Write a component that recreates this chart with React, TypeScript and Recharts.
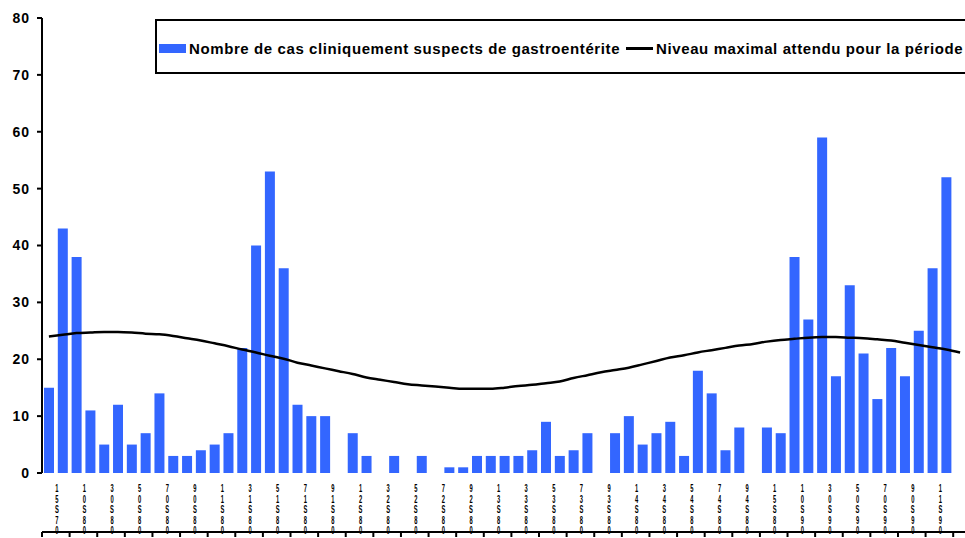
import { Bar, ComposedChart, Legend, Line, XAxis, YAxis } from "recharts";

// weekly counts, last week has no report yet
const cases: (number | null)[] = [
  15, 43, 38, 11, 5, 12, 5, 7, 14, 3, 3, 4, 5, 7, 22, 40, 53, 36, 12, 10, 10, 0, 7, 3, 0, 3, 0,
  3, 0, 1, 1, 3, 3, 3, 3, 4, 9, 3, 4, 7, 0, 7, 10, 5, 7, 9, 3, 18, 14, 4, 8, 0, 8, 7, 38, 27, 59,
  17, 33, 21, 13, 22, 17, 25, 36, 52, null,
];

const threshold: number[] = [
  24.0, 24.3, 24.6, 24.7, 24.8, 24.8, 24.7, 24.5, 24.4, 24.1, 23.7, 23.3, 22.8, 22.3, 21.7, 21.2,
  20.6, 20.1, 19.4, 18.9, 18.4, 17.9, 17.4, 16.8, 16.4, 16.0, 15.6, 15.4, 15.2, 15.0, 14.8, 14.8,
  14.8, 15.0, 15.3, 15.5, 15.8, 16.1, 16.7, 17.2, 17.7, 18.1, 18.5, 19.1, 19.7, 20.3, 20.7, 21.2,
  21.6, 22.0, 22.4, 22.7, 23.1, 23.4, 23.6, 23.8, 23.9, 23.9, 23.8, 23.7, 23.5, 23.3, 22.9, 22.5,
  22.1, 21.7, 21.2,
];

// one label every two weeks (year + week), drawn stacked from the bottom up
const tickLabels: string[] = [
  "07S51", "08S01", "08S03", "08S05", "08S07", "08S09", "08S11", "08S13",
  "08S15", "08S17", "08S19", "08S21", "08S23", "08S25", "08S27", "08S29",
  "08S31", "08S33", "08S35", "08S37", "08S39", "08S41", "08S43", "08S45",
  "08S47", "08S49", "08S51", "09S01", "09S03", "09S05", "09S07", "09S09",
  "09S11",
];

const yTicks = [0, 10, 20, 30, 40, 50, 60, 70, 80];

const BAR_NAME = "Nombre de cas cliniquement suspects de gastroentérite";
const LINE_NAME = "Niveau maximal attendu pour la période";
const FONT = "Arial, 'Liberation Sans', sans-serif";
const BLUE = "#3366ff";

const data = threshold.map((t, i) => ({ pos: i + 0.5, cases: cases[i], seuil: t }));
const weekTicks = threshold.map((_, i) => i).filter((i) => i % 2 === 0);
const labelTicks = tickLabels.map((_, i) => i * 2 + 1);

function StackedTick(props: any) {
  const { x, y, payload } = props;
  const label = tickLabels[(payload.value - 1) / 2] ?? "";
  const chars = label.split("").reverse();
  return (
    <g transform={`translate(${x + 1},${y}) scale(0.55,1)`}>
      <text textAnchor="middle" fontFamily={FONT} fontWeight="bold" fontSize={10.5} fill="#000">
        {chars.map((c, i) => (
          <tspan key={i} x={0} y={11 + i * 10.6}>
            {c}
          </tspan>
        ))}
      </text>
    </g>
  );
}

function LegendBox() {
  const items = [
    { name: BAR_NAME, type: "rect" },
    { name: LINE_NAME, type: "line" },
  ];
  return (
    <div
      style={{
        boxSizing: "border-box",
        width: 812,
        height: 55,
        border: "2px solid #000",
        background: "#fff",
        display: "flex",
        alignItems: "center",
        paddingLeft: 2,
        paddingTop: 3,
        fontFamily: FONT,
        fontWeight: "bold",
        fontSize: 15,
        letterSpacing: 0.6,
        whiteSpace: "nowrap",
        color: "#000",
      }}
    >
      {items.map((it) => (
        <span key={it.name} style={{ display: "flex", alignItems: "center", marginRight: 6 }}>
          {it.type === "line" ? (
            <span style={{ display: "inline-block", width: 27, height: 3, background: "#000", marginRight: 3 }} />
          ) : (
            <span style={{ display: "inline-block", width: 27, height: 9, background: BLUE, marginRight: 3 }} />
          )}
          {it.name}
        </span>
      ))}
    </div>
  );
}

export default function App() {
  return (
    <div style={{ position: "absolute", top: 0, left: 0, width: 965, height: 538, overflow: "hidden", background: "#fff" }}>
      <ComposedChart width={970} height={538} data={data} margin={{ top: 18, right: 3, bottom: 0, left: 0 }}>
        <XAxis
          xAxisId="w"
          dataKey="pos"
          type="number"
          domain={[0, 67]}
          ticks={weekTicks}
          interval={0}
          tick={() => <g />}
          tickSize={5}
          tickLine={{ stroke: "#000", strokeWidth: 2 }}
          axisLine={{ stroke: "#000", strokeWidth: 2 }}
          height={6}
          allowDataOverflow
        />
        <XAxis
          xAxisId="lab"
          dataKey="pos"
          type="number"
          domain={[0, 67]}
          ticks={labelTicks}
          interval={0}
          tick={<StackedTick />}
          tickLine={false}
          axisLine={false}
          height={59}
          allowDataOverflow
        />
        <YAxis
          domain={[0, 80]}
          ticks={yTicks}
          interval={0}
          width={42}
          tickSize={5}
          tickMargin={7}
          tick={{ fontSize: 14, fontWeight: "bold", fill: "#000", fontFamily: FONT, letterSpacing: 1 }}
          tickLine={{ stroke: "#000", strokeWidth: 2 }}
          axisLine={{ stroke: "#000", strokeWidth: 2 }}
        />
        <Legend
          layout="horizontal"
          verticalAlign="middle"
          align="center"
          content={<LegendBox />}
          wrapperStyle={{ top: 19, left: 155, width: 812 }}
        />
        <Bar xAxisId="w" dataKey="cases" name={BAR_NAME} fill={BLUE} barSize={10} isAnimationActive={false} />
        <Line
          xAxisId="w"
          dataKey="seuil"
          name={LINE_NAME}
          type="monotone"
          stroke="#000"
          strokeWidth={2.5}
          dot={false}
          isAnimationActive={false}
        />
      </ComposedChart>
    </div>
  );
}
